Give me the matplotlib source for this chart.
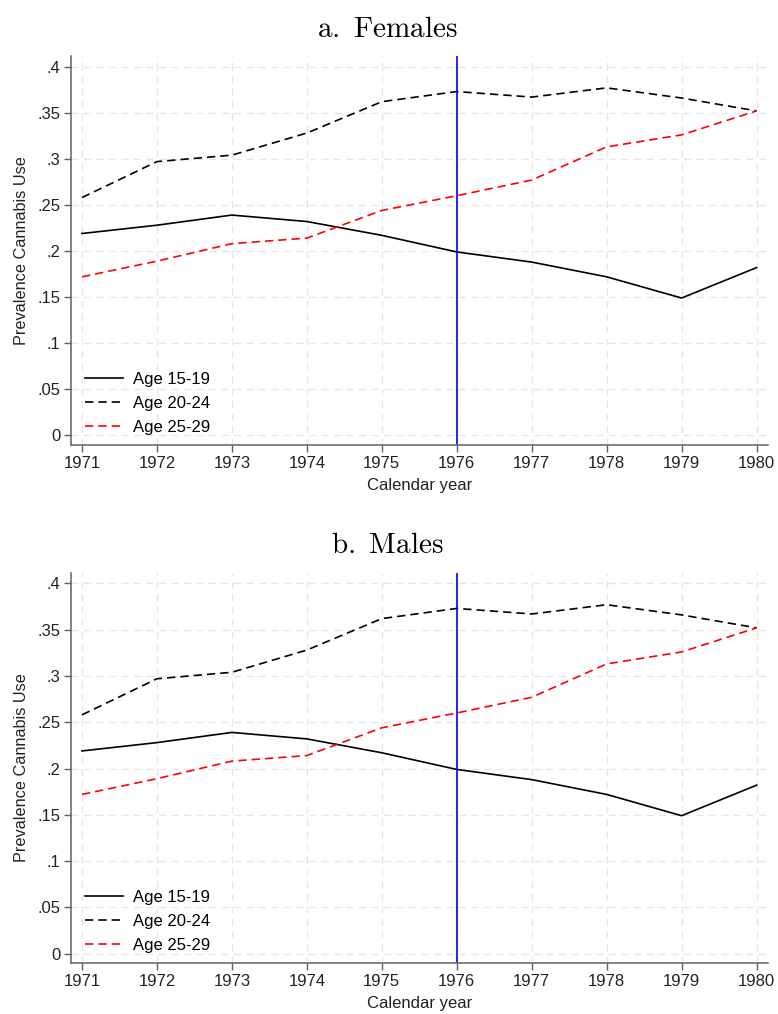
import numpy as np
import matplotlib
matplotlib.use('Agg')
import matplotlib.pyplot as plt

plt.rcParams['font.family'] = ['Liberation Sans', 'DejaVu Sans']
plt.rcParams['mathtext.fontset'] = 'cm'

# Prevalence of cannabis use by age group, 1971-1980
years = [1971, 1972, 1973, 1974, 1975, 1976, 1977, 1978, 1979, 1980]
age_15_19 = [0.219, 0.228, 0.239, 0.232, 0.217, 0.199, 0.188, 0.172, 0.149, 0.182]
age_20_24 = [0.258, 0.297, 0.304, 0.328, 0.362, 0.373, 0.367, 0.377, 0.366, 0.352]
age_25_29 = [0.172, 0.189, 0.208, 0.214, 0.244, 0.260, 0.277, 0.313, 0.326, 0.352]

yticks = [0, 0.05, 0.1, 0.15, 0.2, 0.25, 0.3, 0.35, 0.4]
ytick_labels = ['0', '.05', '.1', '.15', '.2', '.25', '.3', '.35', '.4']
reform_year = 1976

panels = [('a.\\ Females', [0.0919, 0.5611, 0.895, 0.3837]),
          ('b.\\ Males', [0.0919, 0.0500, 0.895, 0.3852])]

fig = plt.figure(figsize=(7.78, 10.14), dpi=100)

for title, rect in panels:
    ax = fig.add_axes(rect)
    ax.plot(years, age_15_19, color='black', lw=1.2, label='Age 15-19')
    ax.plot(years, age_20_24, color='black', lw=1.2, dashes=(5, 3), label='Age 20-24')
    ax.plot(years, age_25_29, color='red', lw=1.2, dashes=(5, 3), label='Age 25-29')
    ax.axvline(reform_year, color='#0000ff', lw=1.2)

    ax.set_xlim(1970.86, 1980.15)
    ax.set_ylim(-0.0105, 0.4116)
    ax.set_xticks(years)
    ax.set_yticks(yticks)
    ax.set_yticklabels(ytick_labels)
    ax.grid(True, color='#e6e6e6', linestyle=(0, (5, 4)), lw=1.0)
    ax.set_axisbelow(True)

    for side in ['top', 'right']:
        ax.spines[side].set_visible(False)
    for side in ['left', 'bottom']:
        ax.spines[side].set_color('#606060')
        ax.spines[side].set_linewidth(1.1)
    ax.tick_params(colors='#606060', labelcolor='#222222', labelsize=12,
                   length=5, width=1.0, pad=3)

    ax.set_xlabel('Calendar year', fontsize=12, color='#222222', labelpad=5)
    ax.set_ylabel('Prevalence Cannabis Use', fontsize=11.7, color='#222222', labelpad=6)
    ax.set_title('$\\mathrm{' + title + '}$', fontsize=21, pad=14, x=0.453)

    ax.legend(loc='lower left', frameon=False, fontsize=12, handlelength=2.3,
              handletextpad=0.6, labelspacing=0.55, borderaxespad=0.3,
              borderpad=0.3, bbox_to_anchor=(0.005, 0.0))

plt.savefig('out.png', dpi=100)
